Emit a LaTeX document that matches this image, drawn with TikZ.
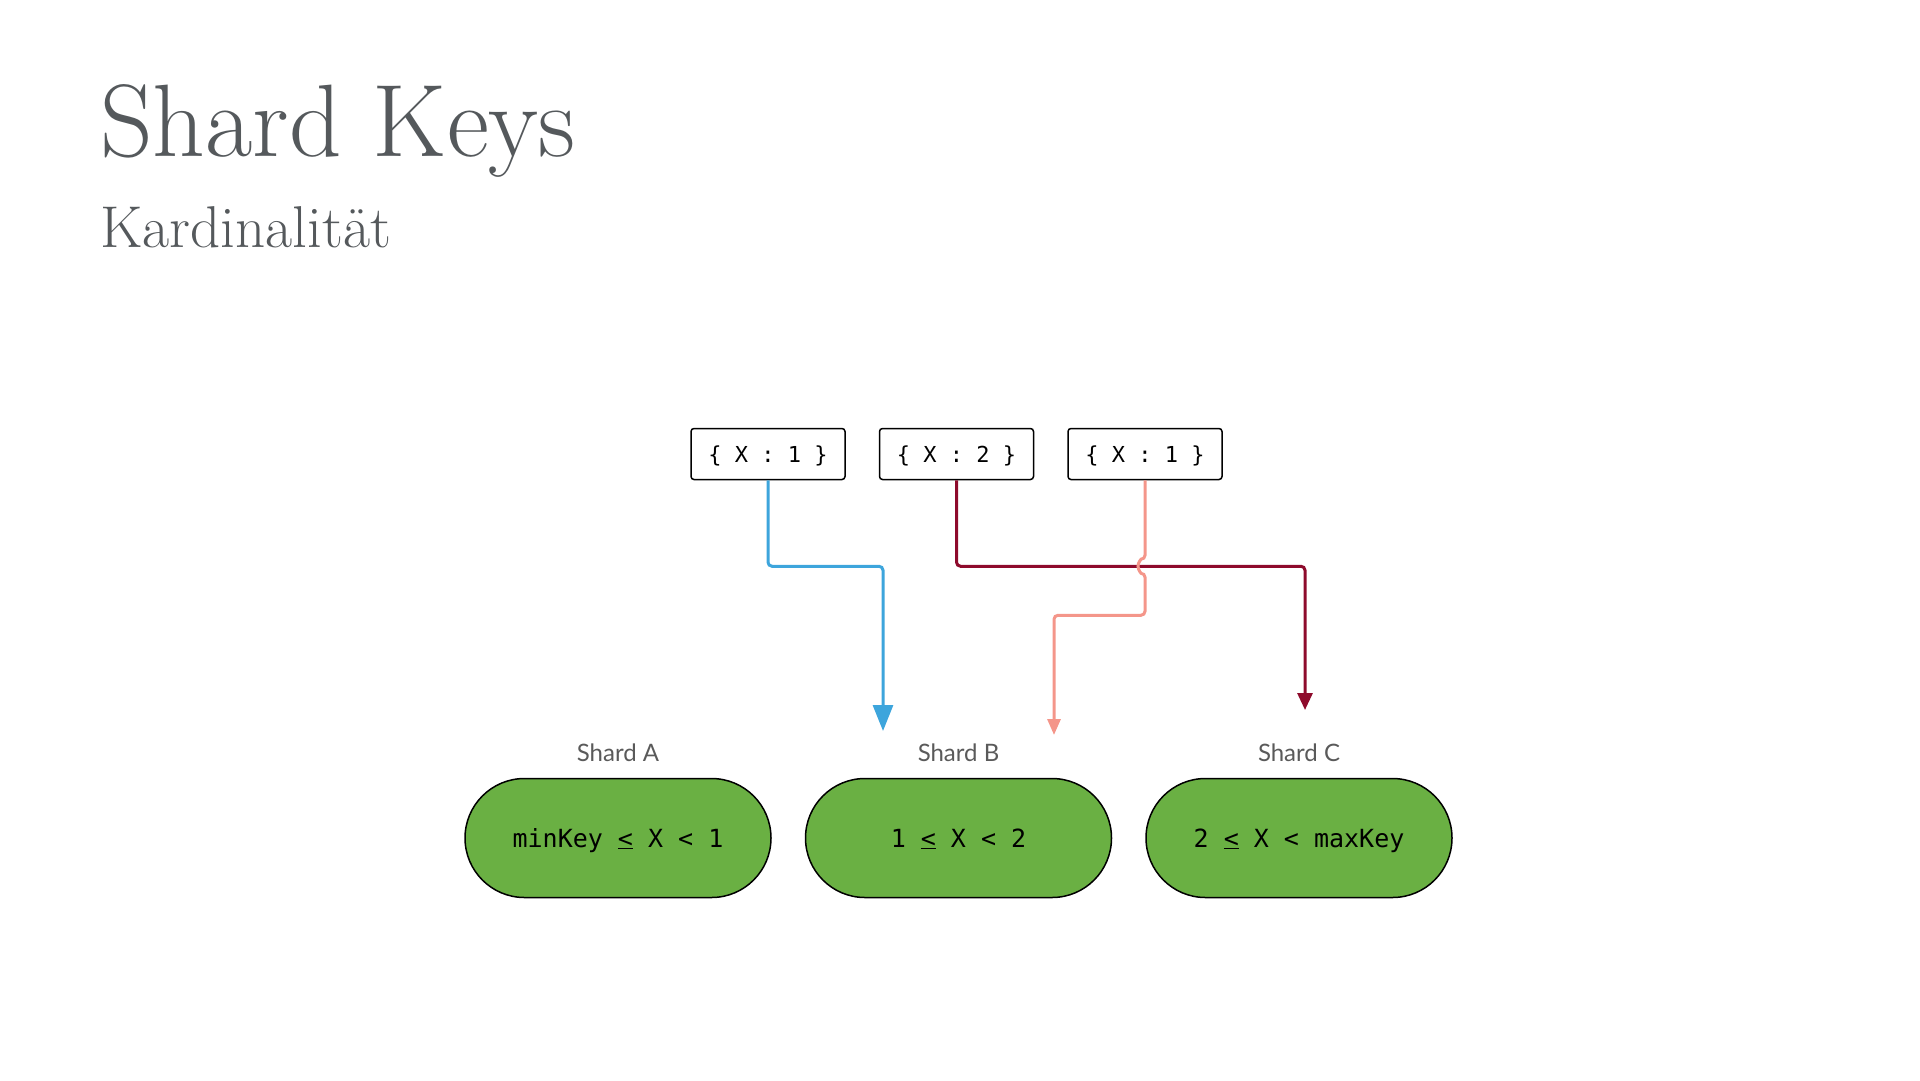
\documentclass[tikz,border=0pt]{standalone}
\usepackage{fontspec}
\setsansfont{Lato}
\setmonofont{DejaVu Sans Mono}
\usepackage{tikz}
\usetikzlibrary{positioning,shapes.misc,arrows.meta}

\definecolor{titlegray}{HTML}{55595C}
\definecolor{labelgray}{HTML}{5A5A5A}
\definecolor{shardgreen}{HTML}{6AB043}
\definecolor{keyblue}{HTML}{3DA5DC}
\definecolor{keyred}{HTML}{8E0B2C}
\definecolor{keysalmon}{HTML}{F4968A}

\newcommand{\leqmark}{\underline{<}}

\tikzset{
  keybox/.style={draw=black, line width=1.5pt, rounded corners=3pt, fill=white,
    minimum width=154pt, minimum height=51pt, inner sep=0pt,
    text height=16pt, text depth=0pt,
    font=\ttfamily\fontsize{22}{22}\selectfont},
  shard/.style={rounded rectangle, draw=black, line width=1.5pt, fill=shardgreen,
    minimum width=306pt, minimum height=119pt, inner sep=0pt,
    text height=18pt, text depth=0pt,
    font=\ttfamily\fontsize{25}{25}\selectfont},
  shardlabel/.style={inner sep=0pt, text=labelgray, font=\sffamily\fontsize{24}{24}\selectfont},
  route/.style={line width=3pt, rounded corners=4pt}
}

\begin{document}
\begin{tikzpicture}[x=1pt, y=1pt]
  \useasboundingbox (0,0) rectangle (1920,-1080);

  % title
  \node[anchor=base west, inner sep=0pt, text=titlegray, font=\fontsize{103}{103}\selectfont]
    (title) at (100,-156) {Shard Keys};
  \node[anchor=base west, inner sep=0pt, text=titlegray, font=\fontsize{59}{59}\selectfont]
    (subtitle) at (100,-247) {Kardinalität};

  % documents
  \node[keybox] (doc1) at (768,-454) {\{ X : 1 \}};
  \node[keybox, right=33pt of doc1] (doc2) {\{ X : 2 \}};
  \node[keybox, right=33pt of doc2] (doc3) {\{ X : 1 \}};

  % shards
  \node[shard] (shardA) at (618,-838) {minKey \leqmark{} X < 1};
  \node[shard, right=33pt of shardA] (shardB) {1 \leqmark{} X < 2};
  \node[shard, right=33pt of shardB] (shardC) {2 \leqmark{} X < maxKey};

  \node[shardlabel, above=16pt of shardA] (labelA) {Shard A};
  \node[shardlabel, above=16pt of shardB] (labelB) {Shard B};
  \node[shardlabel, above=16pt of shardC] (labelC) {Shard C};

  % routes
  \coordinate (endblue) at (883,-731);
  \coordinate (endred) at (1305,-710);
  \coordinate (endsalmon) at (1054,-735);

  \draw[route, keyblue, -{Triangle[width=20pt,length=26pt]}]
    (doc1.south) -- ++(0,-86) -| (endblue);
  \draw[route, keyred, -{Triangle[width=15pt,length=17pt]}]
    (doc2.south) -- ++(0,-86) -| (endred);
  \draw[route, keysalmon, -{Triangle[width=13pt,length=16pt]}]
    (doc3.south) -- ++(0,-79) arc[start angle=90, end angle=270, radius=7]
    -- ++(0,-42) -| (endsalmon);
\end{tikzpicture}
\end{document}
